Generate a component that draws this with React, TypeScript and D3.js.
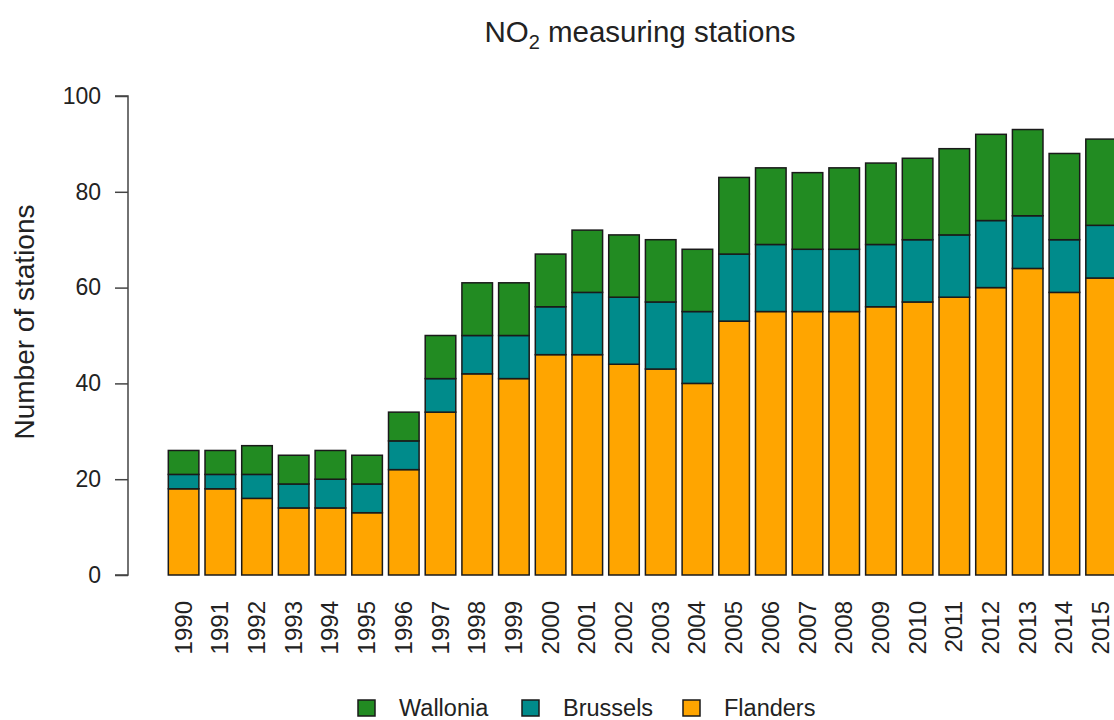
import { useEffect, useRef } from 'react';
import * as d3 from 'd3';

const years = [
  '1990', '1991', '1992', '1993', '1994', '1995', '1996', '1997', '1998', '1999',
  '2000', '2001', '2002', '2003', '2004', '2005', '2006', '2007', '2008', '2009',
  '2010', '2011', '2012', '2013', '2014', '2015',
];
const flanders = [18, 18, 16, 14, 14, 13, 22, 34, 42, 41, 46, 46, 44, 43, 40, 53, 55, 55, 55, 56, 57, 58, 60, 64, 59, 62];
const brussels = [3, 3, 5, 5, 6, 6, 6, 7, 8, 9, 10, 13, 14, 14, 15, 14, 14, 13, 13, 13, 13, 13, 14, 11, 11, 11];
const wallonia = [5, 5, 6, 6, 6, 6, 6, 9, 11, 11, 11, 13, 13, 13, 13, 16, 16, 16, 17, 17, 17, 18, 18, 18, 18, 18];
const yTicks = [0, 20, 40, 60, 80, 100];

const regions = ['Flanders', 'Brussels', 'Wallonia'];
const colors: Record<string, string> = {
  Flanders: '#ffa500',
  Brussels: '#008b8b',
  Wallonia: '#228b22',
};
const legendOrder = ['Wallonia', 'Brussels', 'Flanders'];

const FONT = '"Liberation Sans", Arial, Helvetica, sans-serif';

export default function App() {
  const svgRef = useRef<SVGSVGElement>(null);

  useEffect(() => {
    if (!svgRef.current) return;
    const svg = d3.select(svgRef.current);
    svg.selectAll('*').remove();

    const rows = years.map((yr, i) => ({
      year: yr,
      Flanders: flanders[i],
      Brussels: brussels[i],
      Wallonia: wallonia[i],
    }));

    const x = d3
      .scaleBand<string>()
      .domain(years)
      .range([165.25, 1119.45])
      .paddingInner(1 / 6)
      .paddingOuter(1 / 12);
    const y = d3.scaleLinear().domain([0, 100]).range([575, 96]);

    const series = d3.stack<any>().keys(regions)(rows);

    // bars
    svg
      .append('g')
      .selectAll('g')
      .data(series)
      .join('g')
      .attr('fill', (d) => colors[d.key])
      .selectAll('rect')
      .data((d) => d)
      .join('rect')
      .attr('x', (d: any) => x(d.data.year)!)
      .attr('width', x.bandwidth())
      .attr('y', (d) => y(d[1]))
      .attr('height', (d) => y(d[0]) - y(d[1]))
      .attr('stroke', '#1a1a1a')
      .attr('stroke-width', 1.5);

    // y axis
    const yAxis = d3.axisLeft(y).tickValues(yTicks).tickSize(13).tickPadding(14);
    const ga = svg.append('g').attr('transform', 'translate(128,0)').call(yAxis);
    ga.select('.domain').attr('stroke', '#444').attr('stroke-width', 1.5).attr('d', `M-13,${y(100)}H0V${y(0)}H-13`);
    ga.selectAll('.tick line').attr('stroke', '#444').attr('stroke-width', 1.5);
    ga.selectAll('.tick text')
      .attr('fill', '#222')
      .style('font-family', FONT)
      .style('font-size', '23px');

    // year labels
    svg
      .append('g')
      .selectAll('text')
      .data(years)
      .join('text')
      .attr('transform', (d) => `translate(${x(d)! + x.bandwidth() / 2 + 8},601) rotate(-90)`)
      .attr('text-anchor', 'end')
      .attr('fill', '#222')
      .style('font-family', FONT)
      .style('font-size', '24px')
      .text((d) => d);

    // y label
    svg
      .append('text')
      .attr('transform', 'translate(34,322) rotate(-90)')
      .attr('text-anchor', 'middle')
      .attr('fill', '#222')
      .style('font-family', FONT)
      .style('font-size', '28px')
      .text('Number of stations');

    // title
    const title = svg
      .append('text')
      .attr('x', 640)
      .attr('y', 42)
      .attr('text-anchor', 'middle')
      .attr('fill', '#222')
      .style('font-family', FONT)
      .style('font-size', '29.5px');
    title.append('tspan').text('NO');
    title.append('tspan').attr('dy', 7).style('font-size', '20px').text('2');
    title.append('tspan').attr('dy', -7).text(' measuring stations');

    // legend
    const legendX = [358, 522, 683];
    const lg = svg
      .append('g')
      .selectAll('g')
      .data(legendOrder)
      .join('g')
      .attr('transform', (_, i) => `translate(${legendX[i]},700)`);
    lg.append('rect')
      .attr('width', 17)
      .attr('height', 16)
      .attr('fill', (d) => colors[d])
      .attr('stroke', '#1a1a1a')
      .attr('stroke-width', 1.5);
    lg.append('text')
      .attr('x', 41)
      .attr('y', 16)
      .attr('fill', '#222')
      .style('font-family', FONT)
      .style('font-size', '23.5px')
      .text((d) => d);
  }, []);

  return (
    <svg
      ref={svgRef}
      width={1114}
      height={720}
      style={{ position: 'absolute', left: 0, top: 0, background: '#fff' }}
    />
  );
}
